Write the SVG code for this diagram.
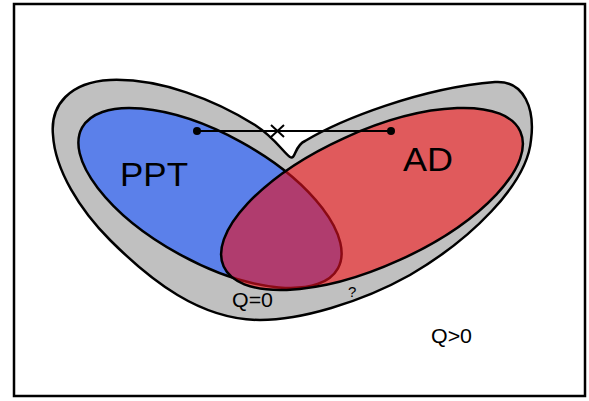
<svg xmlns="http://www.w3.org/2000/svg" width="589" height="401" viewBox="0 0 589 401">
<style>
.line{stroke:#000;stroke-width:2.5}
.lbl{font-family:"Liberation Sans",Arial,sans-serif;fill:#000}
</style>
<defs>
<ellipse id="eb" cx="210" cy="198" rx="146" ry="64" transform="rotate(28.8 210 198)"/>
<ellipse id="er" cx="372" cy="199" rx="163" ry="67" transform="rotate(-24.5 372 199)"/>
<clipPath id="cb"><use href="#eb"/></clipPath>
<clipPath id="cr"><use href="#er"/></clipPath>
</defs>
<rect x="14" y="4" width="571" height="392" fill="#fff" stroke="#000" stroke-width="2.5"/>
<g id="qpos">
<path d="M53,135 C50,105 70,82 110,80 C160,78 215,100 255,125 C275,138 283,152 290,157 C296,160 294,146 305,141 C340,120 420,88 495,82 C525,80 535,110 531,140 C527,185 470,240 410,275 C360,303 300,320 260,320 C200,320 150,280 110,240 C80,210 55,170 53,135 Z" fill="#c0c0c0" class="line"/>
</g>
<g id="ppt">
<use href="#eb" fill="#5b80ea" stroke="#000" stroke-width="2.5"/>
</g>
<g id="ad">
<use href="#er" fill="#e05a5c"/>
<use href="#er" fill="#b03c6e" clip-path="url(#cb)"/>
<use href="#eb" fill="none" stroke="#8b0a14" stroke-width="2.5" clip-path="url(#cr)"/>
<use href="#er" fill="none" stroke="#000" stroke-width="2.5"/>
</g>
<g id="connectors">
<line x1="197" y1="131" x2="391" y2="131" stroke="#000" stroke-width="2"/>
<circle cx="197" cy="131" r="4" fill="#000"/>
<circle cx="391" cy="131" r="4" fill="#000"/>
<path d="M271,125 L284,137 M271,137 L284,125" stroke="#000" stroke-width="2"/>
</g>
<g id="labels">
<text class="lbl" x="120" y="186" font-size="33" textLength="68" lengthAdjust="spacingAndGlyphs">PPT</text>
<text class="lbl" x="403" y="171" font-size="34" textLength="50" lengthAdjust="spacingAndGlyphs">AD</text>
<text class="lbl" x="232" y="307" font-size="20" textLength="41" lengthAdjust="spacingAndGlyphs">Q=0</text>
<text class="lbl" x="348" y="297" font-size="15">?</text>
<text class="lbl" x="431" y="343" font-size="20" textLength="41" lengthAdjust="spacingAndGlyphs">Q&gt;0</text>
</g>
</svg>
